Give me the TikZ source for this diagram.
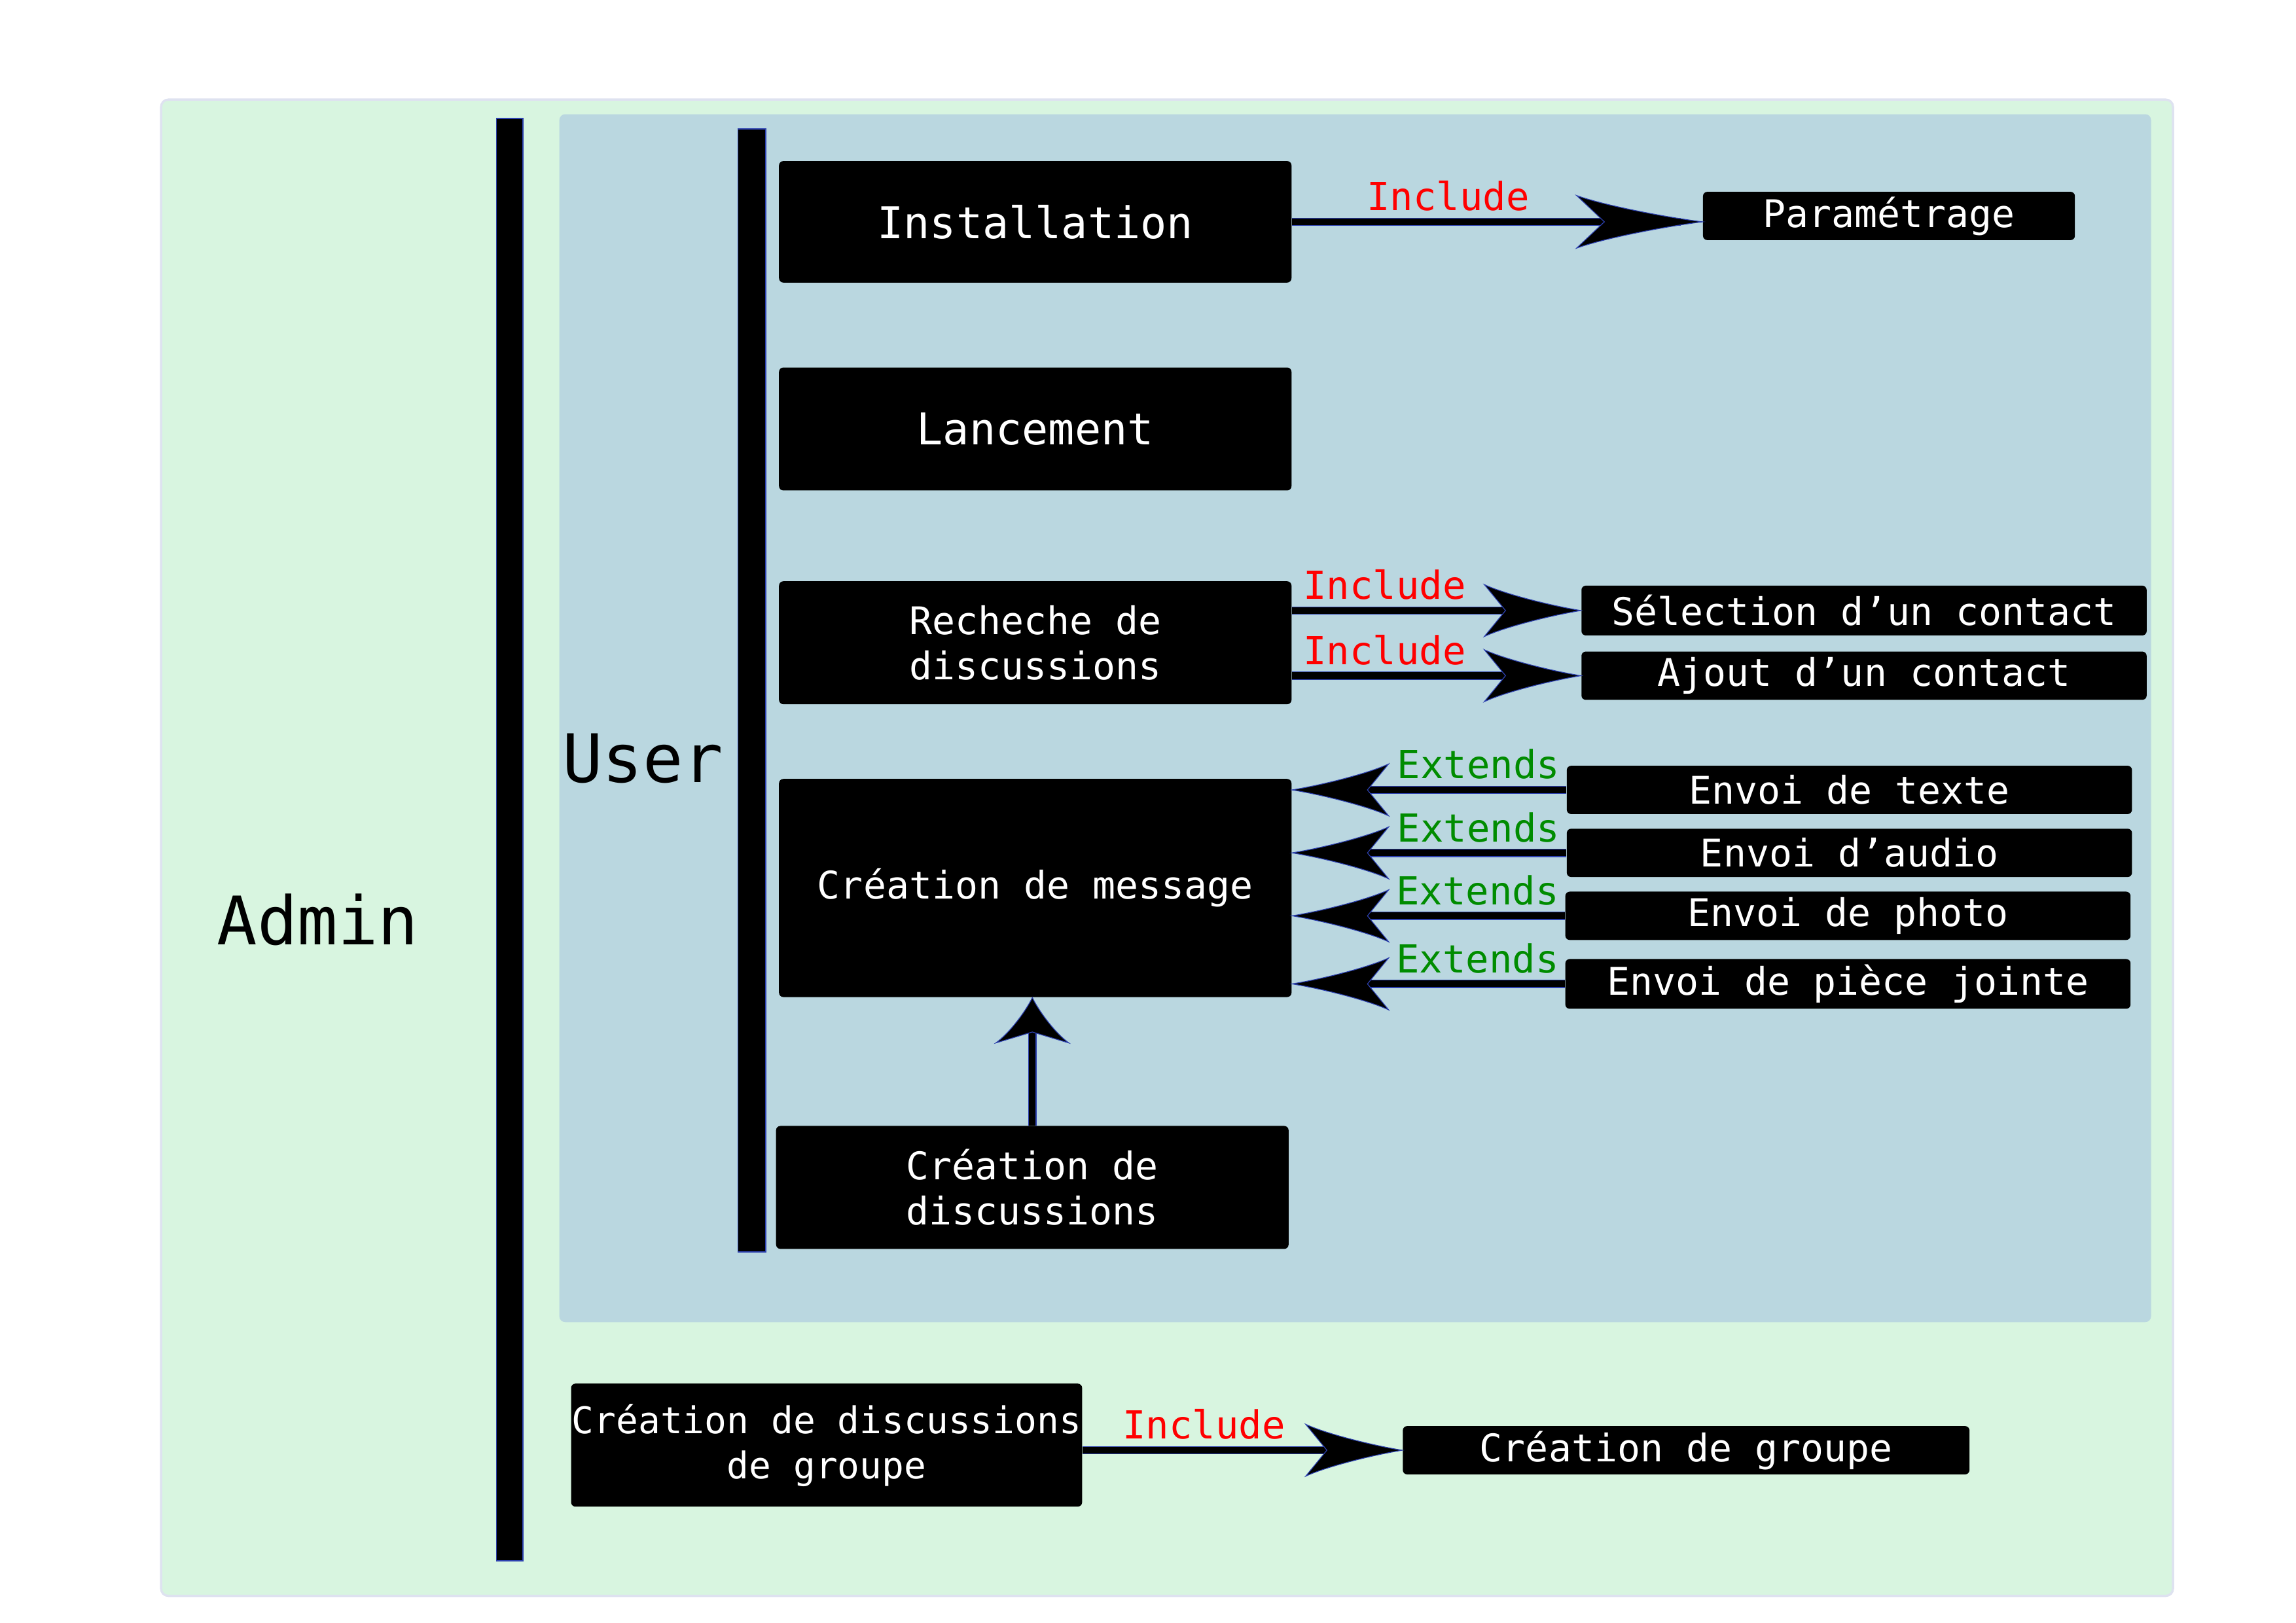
\documentclass[tikz,border=0pt]{standalone}
\usepackage{fontspec}
\setmonofont{DejaVu Sans Mono}
\usetikzlibrary{arrows.meta}

\definecolor{adminbg}{RGB}{216,245,224}
\definecolor{adminedge}{RGB}{222,226,240}
\definecolor{userbg}{RGB}{186,215,224}
\definecolor{edgeblue}{RGB}{45,65,175}
\definecolor{extgreen}{RGB}{0,140,0}

\newcommand{\ucfont}{\ttfamily\fontsize{14.8}{17.6}\selectfont}

% filled head with hollow flanks
\newdimen\headjoin
\pgfdeclarearrow{
  name = UMLhead,
  parameters = {\the\pgfarrowlength,\the\pgfarrowwidth,\the\pgfarrowinset,\the\pgfarrowlinewidth},
  setup code = {
    \headjoin=1.6\pgfarrowinset \advance\headjoin by -\pgfarrowlength
    \pgfarrowssettipend{0pt}
    \pgfarrowssetlineend{\headjoin}
    \pgfarrowssetbackend{-\pgfarrowlength}
    \pgfarrowssavethe\pgfarrowlength
    \pgfarrowssavethe\pgfarrowwidth
    \pgfarrowssavethe\pgfarrowinset
    \pgfarrowssavethe\pgfarrowlinewidth
  },
  drawing code = {
    \pgfsetlinewidth{\pgfarrowlinewidth}
    \headjoin=\pgfarrowinset \advance\headjoin by -\pgfarrowlength
    \pgfpathmoveto{\pgfpointorigin}
    \pgfpathcurveto{\pgfpoint{-.33\pgfarrowlength}{.1\pgfarrowwidth}}{\pgfpoint{-.8\pgfarrowlength}{.325\pgfarrowwidth}}{\pgfpoint{-\pgfarrowlength}{.5\pgfarrowwidth}}
    \pgfpathlineto{\pgfpoint{\headjoin}{0pt}}
    \pgfpathlineto{\pgfpoint{-\pgfarrowlength}{-.5\pgfarrowwidth}}
    \pgfpathcurveto{\pgfpoint{-.8\pgfarrowlength}{-.325\pgfarrowwidth}}{\pgfpoint{-.33\pgfarrowlength}{-.1\pgfarrowwidth}}{\pgfpointorigin}
    \pgfpathclose
    \pgfusepathqfillstroke
  },
  defaults = {length=13.2mm, width=7.1mm, inset=2.9mm}
}

\tikzset{
  uc/.style={fill=black, text=white, rounded corners=0.6mm, inner sep=0pt, align=center, font=\ucfont},
  bigcase/.style={uc, minimum width=70mm, minimum height=16.8mm},
  smallcase/.style={uc, minimum width=77.2mm, minimum height=6.6mm},
  actor/.style={font=\ttfamily\fontsize{26}{30}\selectfont},
  bar/.style={fill=black, draw=edgeblue, line width=0.15mm},
  rel/.style={line width=0.9mm, -{UMLhead[line width=0.3pt, color=edgeblue, fill=black]}, preaction={draw=edgeblue, line width=1.15mm, -, shorten >=3mm}},
  inc/.style={text=red, font=\ttfamily\fontsize{15}{18}\selectfont, above=0.5mm, inner sep=0.5mm},
  ext/.style={inc, text=extgreen}
}

\begin{document}
\begin{tikzpicture}[x=0.2mm, y=-0.2mm]
\useasboundingbox (0,0) rectangle (1568,1108.5);
% panels
\draw[fill=adminbg, draw=adminedge, line width=0.3mm, rounded corners=1mm] (110,68) rectangle (1484,1090);
\fill[userbg, rounded corners=0.8mm] (382,78) rectangle (1469,903);
\draw[bar] (339,81) rectangle (357,1066);
\draw[bar] (504,88) rectangle (523,855);
\node[actor] (admin) at (217,628) {Admin};
\node[actor] (user) at (439,518) {User};
% use cases
\node[bigcase, minimum height=16.6mm, font=\ttfamily\fontsize{17}{20}\selectfont] (inst) at (707,151.5) {Installation};
\node[bigcase, font=\ttfamily\fontsize{17}{20}\selectfont] (lanc) at (707,293) {Lancement};
\node[bigcase] (rech) at (707,439) {Recheche de\\discussions};
\node[bigcase, minimum height=29.8mm] (msg) at (707,606.5) {Création de message};
\node[bigcase] (cdisc) at (705,811) {Création de\\discussions};
\node[bigcase, minimum width=69.8mm, font=\ttfamily\fontsize{14.3}{17.6}\selectfont] (cgdisc) at (564.5,987) {Création de discussions\\de groupe};
\node[uc, minimum width=50.8mm, minimum height=6.6mm] (param) at (1290,147.5) {Paramétrage};
\node[smallcase, minimum height=6.8mm] (sel) at (1273,417) {Sélection d’un contact};
\node[smallcase] (ajout) at (1273,461.5) {Ajout d’un contact};
\node[smallcase] (texte) at (1263,539.5) {Envoi de texte};
\node[smallcase] (audio) at (1263,582.5) {Envoi d’audio};
\node[smallcase] (photo) at (1262,625.5) {Envoi de photo};
\node[smallcase, minimum height=6.8mm] (piece) at (1262,672) {Envoi de pièce jointe};
\node[smallcase, minimum width=77.4mm] (cgroupe) at (1151.5,990.5) {Création de groupe};
% relations
\draw[rel, -{UMLhead[length=17.2mm, width=7.2mm, inset=3.8mm, line width=0.3pt, color=edgeblue, fill=black]}] (inst.east) -- (inst.east -| param.west) node[inc, pos=0.38] {Include};
\draw[rel] (rech.east |- sel.west) -- (sel.west) node[inc, pos=0.32] {Include};
\draw[rel] (rech.east |- ajout.west) -- (ajout.west) node[inc, pos=0.32] {Include};
\foreach \src in {texte, audio, photo, piece}
  \draw[rel] (\src.west) -- (msg.east |- \src.west) node[ext, pos=0.32] {Extends};
\draw[rel, -{UMLhead[length=6.2mm, width=10mm, inset=1.5mm, line width=0.3pt, color=edgeblue, fill=black]}] (cdisc.north) -- (cdisc.north |- msg.south);
\draw[rel] (cgdisc.east |- cgroupe.west) -- (cgroupe.west) node[inc, pos=0.38] {Include};
\end{tikzpicture}
\end{document}
